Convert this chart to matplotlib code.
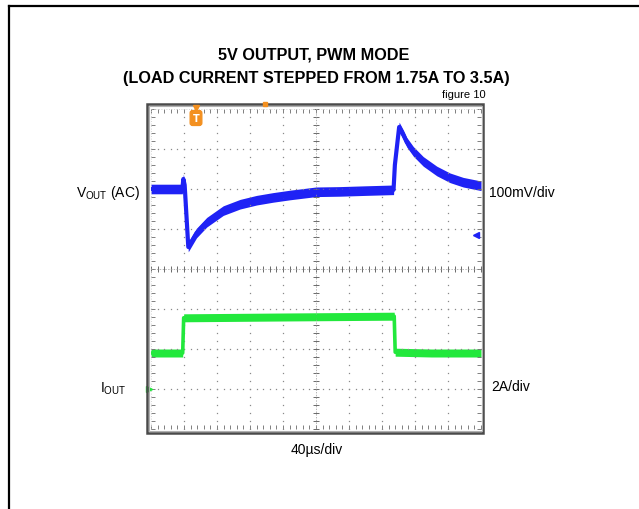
import numpy as np
import matplotlib.pyplot as plt
from matplotlib.patches import Rectangle
from matplotlib.lines import Line2D

# scope traces, x in divisions (40us/div), y in divisions from centre line
vout_t = [0.0, 0.5, 0.95, 0.98, 1.02, 1.13, 1.38, 1.69, 2.19, 2.7, 3.2, 3.7, 4.21,
          5.0, 5.73, 6.5, 7.35, 7.39, 7.52, 7.65, 7.75, 7.95, 8.25, 8.66, 9.06,
          9.46, 10.0]
vout_v = [2.0, 2.0, 2.0, 2.25, 2.1, 0.55, 0.9, 1.17, 1.46, 1.62, 1.72, 1.79, 1.85,
          1.93, 1.94, 1.96, 1.98, 2.6, 3.55, 3.35, 3.17, 2.94, 2.69, 2.45, 2.28,
          2.17, 2.08]

iout_t = [0.0, 0.96, 0.99, 4.0, 7.37, 7.40, 8.5, 10.0]
iout_v = [-2.1, -2.1, -1.22, -1.2, -1.18, -2.08, -2.1, -2.1]

FONT = ['Liberation Sans Narrow', 'Liberation Sans', 'DejaVu Sans']
W, H = 639, 510

fig = plt.figure(figsize=(W / 100, H / 100), dpi=100)

def fx(px):
    return px / W

def fy(py):
    return 1 - py / H

# page frame (left + top edge only visible)
fig.add_artist(Line2D([fx(9), fx(9)], [fy(6.5), 0], color='black', lw=1.6))
fig.add_artist(Line2D([fx(9), 1], [fy(6.5), fy(6.5)], color='black', lw=1.6))

# scope frame
fig.add_artist(Rectangle((fx(147), fy(434)), fx(483) - fx(147), fy(105) - fy(434),
                         fill=False, edgecolor='#4a4a4a', lw=1.8))
fig.add_artist(Rectangle((fx(149), fy(432)), fx(481.5) - fx(149), fy(107) - fy(432),
                         fill=False, edgecolor='#b0b0b0', lw=0.8))

ax = fig.add_axes([fx(151), fy(430), fx(481) - fx(151), fy(110) - fy(430)])
ax.set_xlim(0, 10)
ax.set_ylim(-4, 4)
for s in ax.spines.values():
    s.set_visible(False)

# graticule dots
sub_x = np.arange(0, 10.01, 0.2)
sub_y = np.arange(-4, 4.01, 0.2)
for k in range(1, 10):
    ax.plot(np.full_like(sub_y, k), sub_y, ls='none', marker='s', ms=0.9,
            color='#8a8a8a', mew=0)
for j in range(-3, 4):
    ax.plot(sub_x, np.full_like(sub_x, j), ls='none', marker='s', ms=0.9,
            color='#8a8a8a', mew=0)

# centre cross with ticks
ax.plot(sub_x, np.zeros_like(sub_x), ls='none', marker='|', ms=5, mew=0.7, color='#6a6a6a')
ax.plot(np.full_like(sub_y, 5.0), sub_y, ls='none', marker='_', ms=5, mew=0.7, color='#6a6a6a')
ax.plot([0, 10], [0, 0], color='#9a9a9a', lw=0.5, ls=(0, (2, 2)))
ax.plot([5, 5], [-4, 4], color='#9a9a9a', lw=0.5, ls=(0, (2, 2)))

# edge ticks
ax.set_xticks(sub_x)
ax.set_yticks(sub_y)
ax.tick_params(direction='in', length=3, width=0.6, color='#6a6a6a',
               top=True, right=True, labelbottom=False, labelleft=False)
for e in [0, 10]:
    ax.plot([e, e], [-4, 4], color='#c8c8c8', lw=0.6, ls=(0, (1, 2)))
for e in [-4, 4]:
    ax.plot([0, 10], [e, e], color='#c8c8c8', lw=0.6, ls=(0, (1, 2)))

# traces: noise band + core line
blue = '#1f22f5'
green = '#22e83c'
vt = np.array(vout_t)
vv = np.array(vout_v)
ax.fill_between(vt, vv - 0.12, vv + 0.12, color=blue, lw=0)
ax.plot(vt, vv, color=blue, lw=3.0, solid_joinstyle='round')

it = np.array(iout_t)
iv = np.array(iout_v)
ax.fill_between(it, iv - 0.1, iv + 0.1, color=green, lw=0)
ax.plot(it, iv, color=green, lw=2.6)

# channel markers
ax.plot([-0.05], [-3.0], marker='>', ms=4, color=green, clip_on=False)
ax.plot([9.85], [0.85], marker='<', ms=5, color=blue, clip_on=False)

# trigger marker
orange = '#f39020'
fig.text(fx(196), fy(119), 'T', color='white', fontsize=7, fontweight='bold',
         ha='center', va='center',
         bbox=dict(boxstyle='round,pad=0.25', fc=orange, ec=orange))
fig.add_artist(Line2D([fx(196)], [fy(109)], marker='v', ms=5, color=orange))
fig.add_artist(Line2D([fx(265)], [fy(105)], marker='s', ms=2.5, color=orange))

# titles and labels
fig.text(fx(314), fy(55), '5V OUTPUT, PWM MODE', family=FONT, fontweight='bold',
         fontsize=11.7, ha='center', va='center')
fig.text(fx(316), fy(78), '(LOAD CURRENT STEPPED FROM 1.75A TO 3.5A)', family=FONT,
         fontweight='bold', fontsize=11.7, ha='center', va='center')
fig.text(fx(486), fy(95), 'figure 10', family=FONT, fontsize=8, ha='right', va='center')

fig.text(fx(140), fy(193), r'V$_{\mathregular{OUT}}$ (AC)', family=FONT, fontsize=10,
         ha='right', va='center')
fig.text(fx(489), fy(193), '100mV/div', family=FONT, fontsize=10, ha='left', va='center')
fig.text(fx(100), fy(389), r'I$_{\mathregular{OUT}}$', family=FONT, fontsize=10,
         ha='left', va='center')
fig.text(fx(491), fy(387), '2A/div', family=FONT, fontsize=10, ha='left', va='center')
fig.text(fx(317), fy(450), '40\u00b5s/div', family=FONT, fontsize=10, ha='center', va='center')

fig.savefig('out.png', dpi=100)
